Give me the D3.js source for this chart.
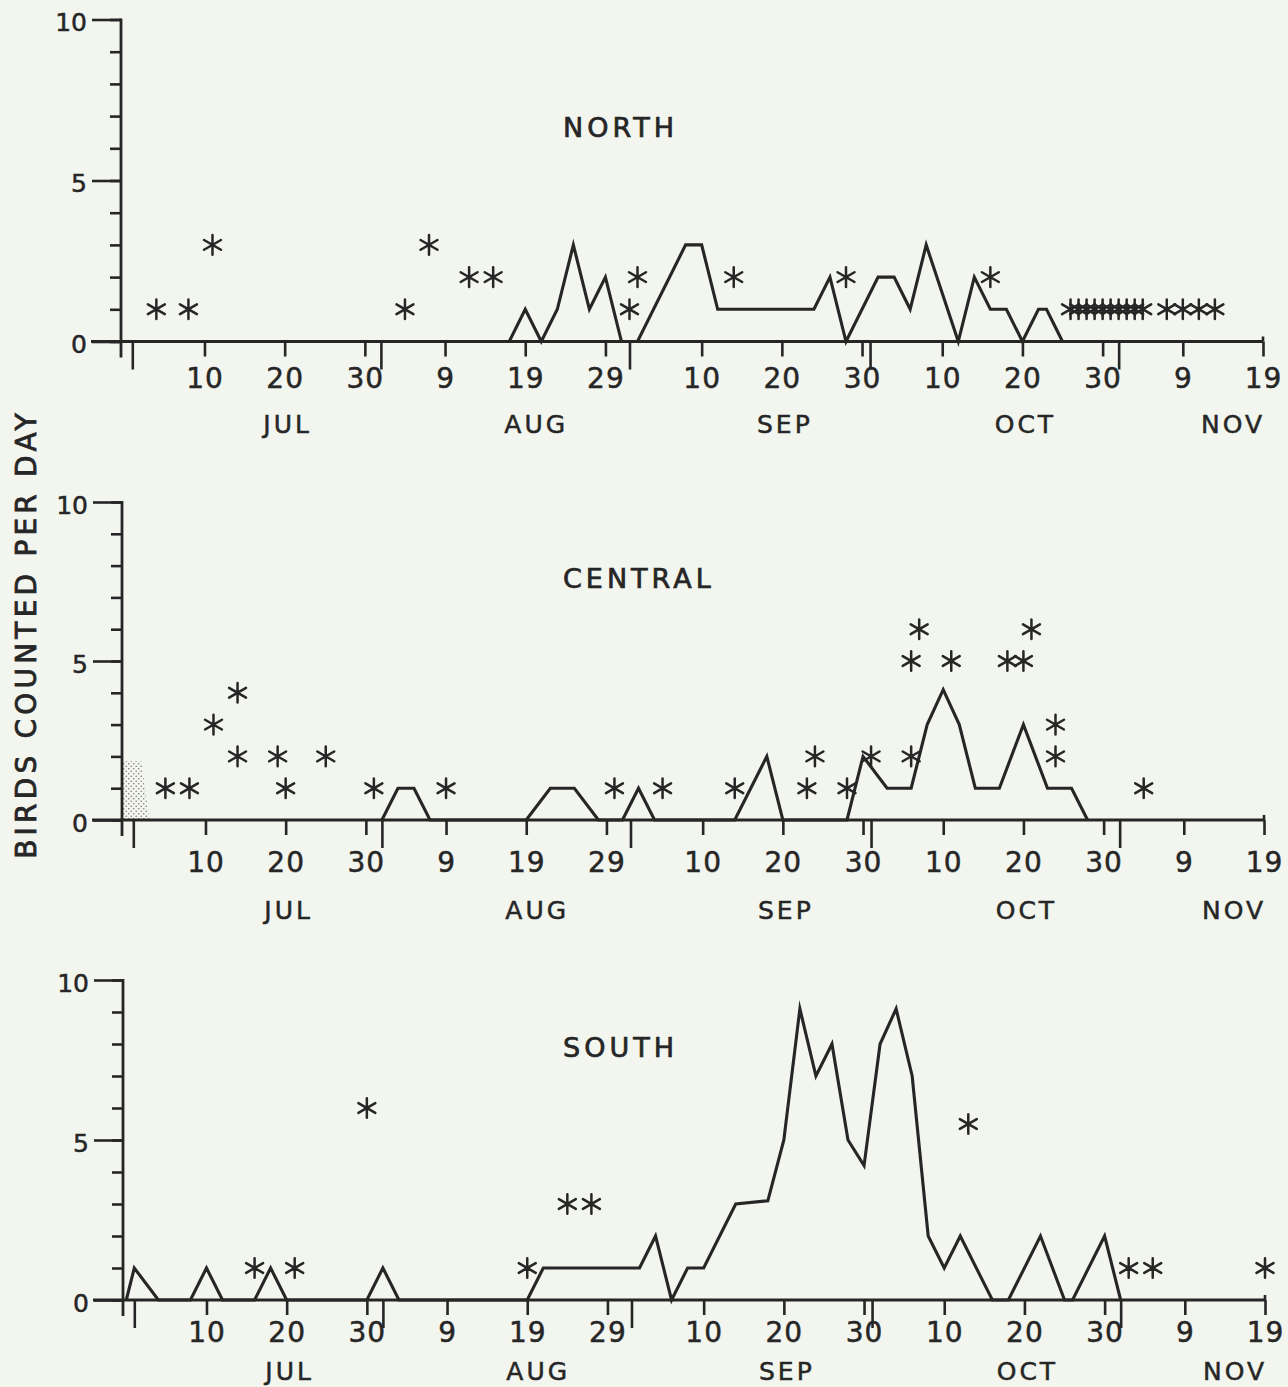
<!DOCTYPE html>
<html>
<head>
<meta charset="utf-8">
<script src="https://cdn.jsdelivr.net/npm/d3@7"></script>
<style>
  html, body { margin: 0; background: #f3f5ef; }
  svg { display: block; }
  text { font-family: "DejaVu Sans", sans-serif; fill: #262626; }
</style>
</head>
<body>
<svg id="chart" width="1288" height="1387"></svg>
<script>
// ---------- data: daily counts, dates as month-day ----------
const monthNames  = ["JUL", "AUG", "SEP", "OCT", "NOV"];
const monthStarts = ["07-01", "08-01", "09-01", "10-01", "11-01"];
const tickDates   = ["07-10", "07-20", "07-30", "08-09", "08-19", "08-29",
                     "09-10", "09-20", "09-30", "10-10", "10-20", "10-30",
                     "11-09", "11-19"];
const yTickValues  = [0, 1, 2, 3, 4, 5, 6, 7, 8, 9, 10];
const yLabelValues = [0, 5, 10];

// NORTH
const northLine = [
  ["08-17", 0], ["08-19", 1], ["08-21", 0], ["08-23", 1], ["08-25", 3], ["08-27", 1],
  ["08-29", 2], ["08-31", 0], ["09-02", 0], ["09-08", 3], ["09-10", 3], ["09-12", 1],
  ["09-24", 1], ["09-26", 2], ["09-28", 0], ["10-02", 2], ["10-04", 2], ["10-06", 1],
  ["10-08", 3], ["10-12", 0], ["10-14", 2], ["10-16", 1], ["10-18", 1], ["10-20", 0],
  ["10-22", 1], ["10-23", 1], ["10-25", 0]
];
const northStars = [
  ["07-04", 1], ["07-08", 1], ["07-11", 3], ["08-04", 1], ["08-07", 3], ["08-12", 2],
  ["08-15", 2], ["09-01", 1], ["09-02", 2], ["09-14", 2], ["09-28", 2], ["10-16", 2],
  ["10-26", 1], ["10-27", 1], ["10-28", 1], ["10-29", 1], ["10-30", 1], ["10-31", 1],
  ["11-01", 1], ["11-02", 1], ["11-03", 1], ["11-04", 1],
  ["11-07", 1], ["11-09", 1], ["11-11", 1], ["11-13", 1]
];

// CENTRAL
const centralLine = [
  ["08-01", 0], ["08-03", 1], ["08-05", 1], ["08-07", 0], ["08-19", 0], ["08-22", 1],
  ["08-25", 1], ["08-28", 0], ["08-31", 0], ["09-02", 1], ["09-04", 0], ["09-14", 0],
  ["09-18", 2], ["09-20", 0], ["09-28", 0], ["09-30", 2], ["10-03", 1], ["10-06", 1],
  ["10-08", 3], ["10-10", 4.1], ["10-12", 3], ["10-14", 1], ["10-17", 1], ["10-20", 3],
  ["10-23", 1], ["10-26", 1], ["10-28", 0]
];
const centralStars = [
  ["07-05", 1], ["07-08", 1], ["07-11", 3], ["07-14", 4], ["07-14", 2], ["07-19", 2],
  ["07-20", 1], ["07-25", 2], ["07-31", 1], ["08-09", 1], ["08-30", 1], ["09-05", 1],
  ["09-14", 1], ["09-23", 1], ["09-24", 2], ["09-28", 1], ["10-01", 2], ["10-06", 2],
  ["10-06", 5], ["10-07", 6], ["10-11", 5], ["10-18", 5], ["10-20", 5], ["10-21", 6],
  ["10-24", 3], ["10-24", 2], ["11-04", 1]
];
// stippled block at the start of the central season
const centralShade = [["06-28", 0], ["06-28", 1.85], ["07-02", 1.85], ["07-03", 0]];

// SOUTH
const southLine = [
  ["06-30", 0], ["07-01", 1], ["07-04", 0], ["07-08", 0], ["07-10", 1], ["07-12", 0],
  ["07-16", 0], ["07-18", 1], ["07-20", 0], ["07-30", 0], ["08-01", 1], ["08-03", 0],
  ["08-19", 0], ["08-21", 1], ["09-02", 1], ["09-04", 2], ["09-06", 0], ["09-08", 1],
  ["09-10", 1], ["09-14", 3], ["09-18", 3.1], ["09-20", 5], ["09-22", 9.1], ["09-24", 7],
  ["09-26", 8], ["09-28", 5], ["09-30", 4.2], ["10-02", 8], ["10-04", 9.1], ["10-06", 7],
  ["10-08", 2], ["10-10", 1], ["10-12", 2], ["10-16", 0], ["10-18", 0], ["10-22", 2],
  ["10-25", 0], ["10-26", 0], ["10-30", 2], ["11-01", 0]
];
const southStars = [
  ["07-16", 1], ["07-21", 1], ["07-30", 6], ["08-19", 1], ["08-24", 3], ["08-27", 3],
  ["10-13", 5.5], ["11-02", 1], ["11-05", 1], ["11-19", 1]
];

// ---------- layout ----------
const INK = "#262626";
const panels = [
  { title: "NORTH",   line: northLine,   stars: northStars,
    base: 341.5, top: 19.5, dx: 0, titleY: 137, tickY: 388, monthY: 433 },
  { title: "CENTRAL", line: centralLine, stars: centralStars, shade: centralShade,
    base: 820, top: 502, dx: 1, titleY: 588, tickY: 872, monthY: 919 },
  { title: "SOUTH",   line: southLine,   stars: southStars,
    base: 1300, top: 980, dx: 2, titleY: 1057, tickY: 1342, monthY: 1380 }
];

const parseDay = d3.utcParse("%Y-%m-%d");
const at = s => parseDay("1975-" + s);

const svg = d3.select("#chart");
svg.append("rect").attr("width", 1288).attr("height", 1387).attr("fill", "#f3f5ef");

const defs = svg.append("defs");
const pat = defs.append("pattern")
  .attr("id", "stipple").attr("patternUnits", "userSpaceOnUse")
  .attr("width", 5).attr("height", 5);
pat.append("circle").attr("cx", 1.2).attr("cy", 1.2).attr("r", 0.8).attr("fill", "#777");
pat.append("circle").attr("cx", 3.7).attr("cy", 3.7).attr("r", 0.8).attr("fill", "#777");

const star = d3.symbol(d3.symbolAsterisk, 270);

panels.forEach((p, i) => {
  const x = d3.scaleUtc()
    .domain([at("07-01"), at("11-19")])
    .range([132.3 + p.dx, 1263 + p.dx]);
  const y = d3.scaleLinear().domain([0, 10]).range([p.base, p.top]);
  const x0 = x(at("07-01")) - 11.3;     // vertical axis
  const xEnd = x(at("11-19"));

  const g = svg.append("g").attr("color", INK);

  // stippled block
  if (p.shade) {
    defs.append("clipPath").attr("id", "clip" + i)
      .append("rect").attr("x", x0 + 1).attr("y", p.top).attr("width", 200).attr("height", p.base - p.top);
    g.append("path")
      .attr("d", d3.line().x(d => x(at(d[0]))).y(d => y(d[1]))(p.shade) + "Z")
      .attr("fill", "url(#stipple)")
      .attr("clip-path", `url(#clip${i})`);
  }

  // y axis: minor and major ticks
  const yMinor = d3.axisLeft(y).tickValues(yTickValues).tickSize(11).tickFormat("");
  const yMajor = d3.axisLeft(y).tickValues(yLabelValues).tickSize(29).tickPadding(5);
  [yMinor, yMajor].forEach(ax => {
    const a = g.append("g").attr("transform", `translate(${x0},0)`).call(ax);
    a.select(".domain").remove();
    a.selectAll(".tick line").attr("stroke-width", 2.6);
    a.selectAll(".tick text")
      .attr("font-size", 25).attr("font-family", "DejaVu Sans, sans-serif")
      .attr("fill", INK).attr("stroke", INK).attr("stroke-width", 0.5)
      .attr("dy", "0.45em");
  });
  g.append("line")
    .attr("x1", x0).attr("x2", x0).attr("y1", p.top - 1).attr("y2", p.base + 16)
    .attr("stroke", INK).attr("stroke-width", 2.8);

  // x axis: day ticks and month boundaries
  const xDays = d3.axisBottom(x).tickValues(tickDates.map(at))
    .tickSize(15).tickFormat(d3.utcFormat("%-d"));
  const xMonths = d3.axisBottom(x).tickValues(monthStarts.map(at))
    .tickSize(28).tickFormat("");
  [xMonths, xDays].forEach(ax => {
    const a = g.append("g").attr("transform", `translate(0,${p.base})`).call(ax);
    a.select(".domain").remove();
    a.selectAll(".tick line").attr("stroke-width", 2.6);
    a.selectAll(".tick text")
      .attr("font-size", 28).attr("font-family", "DejaVu Sans, sans-serif")
      .attr("fill", INK).attr("stroke", INK).attr("stroke-width", 0.5)
      .attr("y", p.tickY - p.base).attr("dy", 0)
      .attr("letter-spacing", 1);
  });
  g.append("line")
    .attr("x1", x0 - 30).attr("x2", xEnd).attr("y1", p.base).attr("y2", p.base)
    .attr("stroke", INK).attr("stroke-width", 2.8);
  g.append("line")
    .attr("x1", xEnd).attr("x2", xEnd).attr("y1", p.base - 5).attr("y2", p.base)
    .attr("stroke", INK).attr("stroke-width", 2.6);

  // month names
  g.selectAll("text.month").data(monthNames).join("text")
    .attr("class", "month")
    .attr("x", (m, k) => {
      const mid = d3.utcDay.offset(at(monthStarts[k]), 19);
      return Math.min(x(mid) + 3, xEnd - 30);
    })
    .attr("y", p.monthY)
    .attr("text-anchor", "middle")
    .attr("font-size", 25)
    .attr("letter-spacing", 3)
    .attr("stroke", INK).attr("stroke-width", 0.5)
    .text(m => m);

  // panel title
  g.append("text")
    .attr("x", 563).attr("y", p.titleY)
    .attr("font-size", 27).attr("letter-spacing", 4)
    .attr("stroke", INK).attr("stroke-width", 0.7)
    .text(p.title);

  // count line
  g.append("path")
    .attr("d", d3.line().x(d => x(at(d[0]))).y(d => y(d[1]))(p.line))
    .attr("fill", "none").attr("stroke", INK)
    .attr("stroke-width", 3.1).attr("stroke-linejoin", "miter").attr("stroke-miterlimit", 10);

  // asterisk marks
  g.selectAll("path.star").data(p.stars).join("path")
    .attr("class", "star")
    .attr("transform", d => `translate(${x(at(d[0]))},${y(d[1])})`)
    .attr("d", star)
    .attr("fill", "none").attr("stroke", INK)
    .attr("stroke-width", 2.5).attr("stroke-linecap", "round");
});

// shared y-axis title
svg.append("text")
  .attr("transform", "translate(36,634) rotate(-90)")
  .attr("text-anchor", "middle")
  .attr("font-size", 28)
  .attr("letter-spacing", 4.2)
  .attr("stroke", INK).attr("stroke-width", 0.8)
  .text("BIRDS COUNTED PER DAY");
</script>
</body>
</html>
